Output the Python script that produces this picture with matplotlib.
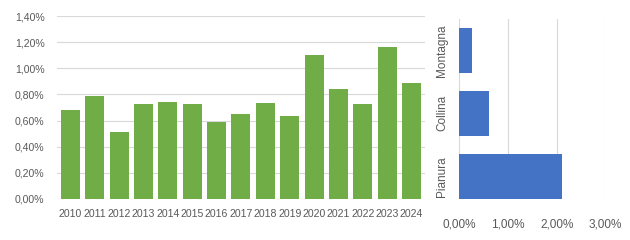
import matplotlib
matplotlib.use("Agg")
import matplotlib.pyplot as plt
from matplotlib.ticker import FuncFormatter

years = ["2010", "2011", "2012", "2013", "2014", "2015", "2016", "2017",
         "2018", "2019", "2020", "2021", "2022", "2023", "2024"]
rate_by_year = [0.68, 0.79, 0.51, 0.73, 0.74, 0.73, 0.59, 0.65,
                0.735, 0.635, 1.10, 0.84, 0.73, 1.165, 0.885]

zones = ["Pianura", "Collina", "Montagna"]
rate_by_zone = [2.10, 0.62, 0.26]

GREEN = "#70AD47"
BLUE = "#4472C4"
GRID = "#D9D9D9"
TXT = "#595959"

plt.rcParams["font.family"] = ["Liberation Sans", "DejaVu Sans"]


def pct(v, pos):
    return f"{v:.2f}%".replace(".", ",")


fig = plt.figure(figsize=(6.3, 2.4), dpi=100)

# left: yearly bars
ax1 = fig.add_axes([0.0905, 0.171, 0.584, 0.762])
ax1.bar(range(len(years)), rate_by_year, width=0.78, color=GREEN, zorder=2)
ax1.set_ylim(0, 1.4)
ax1.set_xlim(-0.55, len(years) - 0.45)
ax1.set_yticks([0, 0.2, 0.4, 0.6, 0.8, 1.0, 1.2, 1.4])
ax1.yaxis.set_major_formatter(FuncFormatter(pct))
ax1.set_xticks(range(len(years)))
ax1.set_xticklabels(years)
ax1.grid(axis="y", color=GRID, linewidth=0.8, zorder=0)
for s in ax1.spines.values():
    s.set_visible(False)
ax1.tick_params(axis="y", length=0, pad=9, labelsize=7.6, labelcolor=TXT)
ax1.tick_params(axis="x", length=0, pad=7, labelsize=7.6, labelcolor=TXT)

# right: bars by zone
ax2 = fig.add_axes([0.729, 0.171, 0.232, 0.75])
ax2.barh(range(len(zones)), rate_by_zone, height=0.72, color=BLUE, zorder=2)
ax2.set_xlim(0, 3)
ax2.set_ylim(-0.36, 2.5)
ax2.set_xticks([0, 1, 2, 3])
ax2.xaxis.set_major_formatter(FuncFormatter(pct))
ax2.set_yticks(range(len(zones)))
ax2.set_yticklabels(zones, rotation=90, va="center")
ax2.grid(axis="x", color=GRID, linewidth=0.8, zorder=0)
for s in ax2.spines.values():
    s.set_visible(False)
ax2.tick_params(axis="x", length=0, pad=14, labelsize=8.5, labelcolor=TXT)
ax2.tick_params(axis="y", length=0, pad=8, labelsize=8.5, labelcolor=TXT)

fig.savefig("out.png", dpi=100)
